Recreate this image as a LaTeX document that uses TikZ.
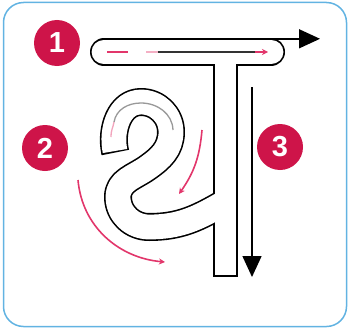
\documentclass[tikz,border=0pt]{standalone}
\usepackage{fontspec}
\newfontfamily\numfont{Liberation Sans}
\usetikzlibrary{arrows.meta}
\definecolor{frameblue}{HTML}{62B3E2}
\definecolor{numred}{HTML}{CE1449}
\definecolor{guidepink}{HTML}{E2366B}
\begin{document}
\begin{tikzpicture}[x=1pt,y=-1pt,
  numcirc/.style={circle, fill=numred, minimum size=46pt, inner sep=0pt, text=white,
    font=\numfont\bfseries\fontsize{29}{29}\selectfont},
  blk/.style={draw=black, line width=#1},
  wht/.style={draw=white, line width=#1},
  guide/.style={guidepink, line width=1.6pt},
  bigtip/.style={-{Triangle[length=21pt,width=19pt]}},
  smalltip/.style={-{Stealth[length=6pt,width=6pt]}}]
\useasboundingbox (0,0) rectangle (350,329);
% frame
\draw[frameblue, line width=1.5pt, rounded corners=20pt] (3.5,2.5) rectangle (346.5,326.5);
% letter skeleton
\coordinate (barL) at (104,52);
\coordinate (barR) at (271,52);
\coordinate (stT) at (225.5,52);
\coordinate (stB) at (225.5,277);
\coordinate (stBw) at (225.5,275.4);
\coordinate (b0x) at (115.3,152.5);
\coordinate (b0) at (115,151);
\coordinate (b2) at (141,102);
\coordinate (b3) at (171,132);
\coordinate (b4) at (147,168);
\coordinate (b5) at (118,197);
\coordinate (b6) at (149,227);
\coordinate (b8) at (224,203);
% black layer
\draw[blk=28pt, line cap=round] (barL) -- (barR);
\draw[blk=25pt] (stT) -- (stB);
\draw[blk=28pt, line join=round] (b0x) -- (b0) to[out=102,in=180] (b2) to[out=0,in=90] (b3)
  to[out=270,in=35] (b4) to[out=215,in=90] (b5) to[out=270,in=180] (b6) to[out=0,in=210] (b8);
% white layer
\draw[wht=24.8pt, line cap=round] (barL) -- (barR);
\draw[wht=21.8pt] (stT) -- (stBw);
\draw[wht=24.8pt, line join=round] (b0) to[out=102,in=180] (b2) to[out=0,in=90] (b3)
  to[out=270,in=35] (b4) to[out=215,in=90] (b5) to[out=270,in=180] (b6) to[out=0,in=210] (b8);
% stroke 1 guides
\coordinate (g1a) at (107,52);
\coordinate (g1b) at (128,52);
\coordinate (g1c) at (146,52);
\coordinate (g1d) at (158,52);
\coordinate (g1e) at (258,52);
\coordinate (g1f) at (255,52);
\coordinate (g1g) at (268,52);
\draw[guide] (g1a) -- (g1b);
\draw[guide, guidepink!40] (g1c) -- (g1d);
\draw[black!80, line width=1.6pt] (g1d) -- (g1e);
\draw[guide, smalltip] (g1f) -- (g1g);
\coordinate (a1s) at (262,38.8);
\coordinate (a1e) at (320,38.8);
\draw[line width=1.5pt, bigtip] (a1s) -- (a1e);
% stroke 2 guides
\coordinate (g2a) at (111,137);
\coordinate (g2m) at (114,122);
\coordinate (g2b) at (141,103);
\coordinate (g2c) at (173,130);
\draw[guidepink!45, line width=1.3pt] (g2a) to[out=93,in=260] (g2m);
\draw[black!40, line width=1.3pt] (g2m) to[out=80,in=180] (g2b) to[out=0,in=92] (g2c);
\coordinate (g2d) at (202,130);
\coordinate (g2e) at (179,194);
\draw[guide, smalltip] (g2d) to[out=265,in=55] (g2e);
\coordinate (g2f) at (78,180);
\coordinate (g2g) at (165,262);
\draw[guide, smalltip] (g2f) to[out=275,in=175] (g2g);
% stroke 3 guide
\coordinate (a3s) at (252,87);
\coordinate (a3e) at (252,277);
\draw[line width=1.5pt, bigtip] (a3s) -- (a3e);
% numbers
\node[numcirc] (n1) at (57,43) {1};
\node[numcirc] (n2) at (45,148) {2};
\node[numcirc] (n3) at (280,147) {3};
\end{tikzpicture}
\end{document}
